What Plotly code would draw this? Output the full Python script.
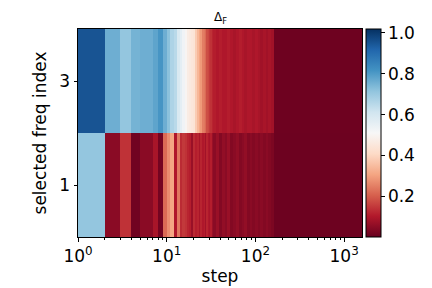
import plotly.graph_objects as go

# step edges of the colour cells (log x axis)
step_edges = list(range(1, 34)) + [36, 39, 42, 45, 48, 52, 56, 60, 65, 70, 75, 80, 86, 92,
                                   99, 106, 114, 122, 131, 140, 150, 160, 1590]
freq_edges = [0, 2, 4]
freq_ticks = [1, 3]

# selected freq index 1 (bottom row)
delta_f_idx1 = [0.71, 0.05, 0.14, 0.015, 0.05, 0.05, 0.09, 0.02, 0.22, 0.27, 0.31, 0.10,
                0.24, 0.13, 0.15, 0.14, 0.12, 0.11, 0.07, 0.13, 0.11, 0.12, 0.09, 0.12,
                0.10, 0.11, 0.08, 0.12, 0.10, 0.09, 0.11, 0.07,
                0.05, 0.07, 0.04, 0.06, 0.05, 0.07, 0.04, 0.05, 0.06, 0.04, 0.05, 0.06,
                0.04, 0.05, 0.04, 0.05, 0.04, 0.05, 0.04, 0.05, 0.04, 0.03,
                0.01]
# selected freq index 3 (top row)
delta_f_idx3 = [0.95, 0.76, 0.71, 0.75, 0.76, 0.76, 0.78, 0.81, 0.76, 0.72, 0.67, 0.65,
                0.59, 0.56, 0.53, 0.50, 0.47, 0.46, 0.45, 0.44, 0.38, 0.34, 0.31, 0.29,
                0.25, 0.24, 0.22, 0.18, 0.17, 0.15, 0.14, 0.12,
                0.11, 0.10, 0.11, 0.10, 0.10, 0.11, 0.10, 0.09, 0.10, 0.11, 0.10, 0.09,
                0.10, 0.10, 0.09, 0.10, 0.09, 0.08, 0.09, 0.08, 0.09, 0.08,
                0.012]

x_tickvals = [1, 10, 100, 1000]
x_ticktext = ["10<sup>0</sup>", "10<sup>1</sup>", "10<sup>2</sup>", "10<sup>3</sup>"]
minor_vals = [m * 10 ** k for k in range(4) for m in range(2, 10) if m * 10 ** k < 1590]
cbar_ticks = [0.2, 0.4, 0.6, 0.8, 1.0]

rdbu = [[0.0, "#67001f"], [0.1, "#b2182b"], [0.2, "#d6604d"], [0.3, "#f4a582"],
        [0.4, "#fddbc7"], [0.5, "#f7f7f7"], [0.6, "#d1e5f0"], [0.7, "#92c5de"],
        [0.8, "#4393c3"], [0.9, "#2166ac"], [1.0, "#053061"]]

FONT = "DejaVu Sans"
FS = 17

fig = go.Figure(go.Heatmap(
    x=step_edges, y=freq_edges, z=[delta_f_idx1, delta_f_idx3],
    colorscale=rdbu, zmin=0.002, zmax=1.018,
    colorbar=dict(
        x=1.014, xanchor="left", xpad=0, ypad=0, y=0.5, yanchor="middle", len=1,
        thickness=15, thicknessmode="pixels", outlinewidth=1, outlinecolor="black",
        tickvals=cbar_ticks, tickformat=".1f", ticks="outside", ticklen=3.5,
        tickwidth=0.8, tickcolor="black",
        tickfont=dict(family=FONT, size=FS, color="black"),
    ),
))

# page body has an 8px margin, so the figure is 8px smaller and margins shifted
fig.update_layout(
    width=424, height=280,
    margin=dict(l=70, r=70, t=21, b=51),
    paper_bgcolor="white", plot_bgcolor="white",
    font=dict(family=FONT, color="black"),
    xaxis=dict(
        type="log", range=[0, 3.2014], tickvals=x_tickvals, ticktext=x_ticktext,
        ticks="outside", ticklen=3.5, tickwidth=0.8, tickcolor="black",
        minor=dict(tickvals=minor_vals, ticks="outside", ticklen=2, tickwidth=0.6,
                   tickcolor="black", showgrid=False),
        showgrid=False, zeroline=False, showline=True, mirror=True,
        linecolor="black", linewidth=1, automargin=False,
        tickfont=dict(family=FONT, size=FS, color="black"),
        title=dict(text="step", font=dict(family=FONT, size=FS, color="black"), standoff=5),
    ),
    yaxis=dict(
        range=[0, 4], tickvals=freq_ticks, ticks="outside", ticklen=3.5, tickwidth=0.8,
        tickcolor="black", showgrid=False, zeroline=False, showline=True, mirror=True,
        linecolor="black", linewidth=1, automargin=False,
        tickfont=dict(family=FONT, size=FS, color="black"),
        title=dict(text="selected freq index", font=dict(family=FONT, size=FS, color="black"),
                   standoff=8),
    ),
    annotations=[dict(text="Δ<sub>F</sub>", x=0.5, y=1, xref="paper", yref="paper",
                      xanchor="center", yanchor="bottom", yshift=1, showarrow=False,
                      font=dict(family=FONT, size=12, color="black"))],
)

fig.write_html("out.html")
